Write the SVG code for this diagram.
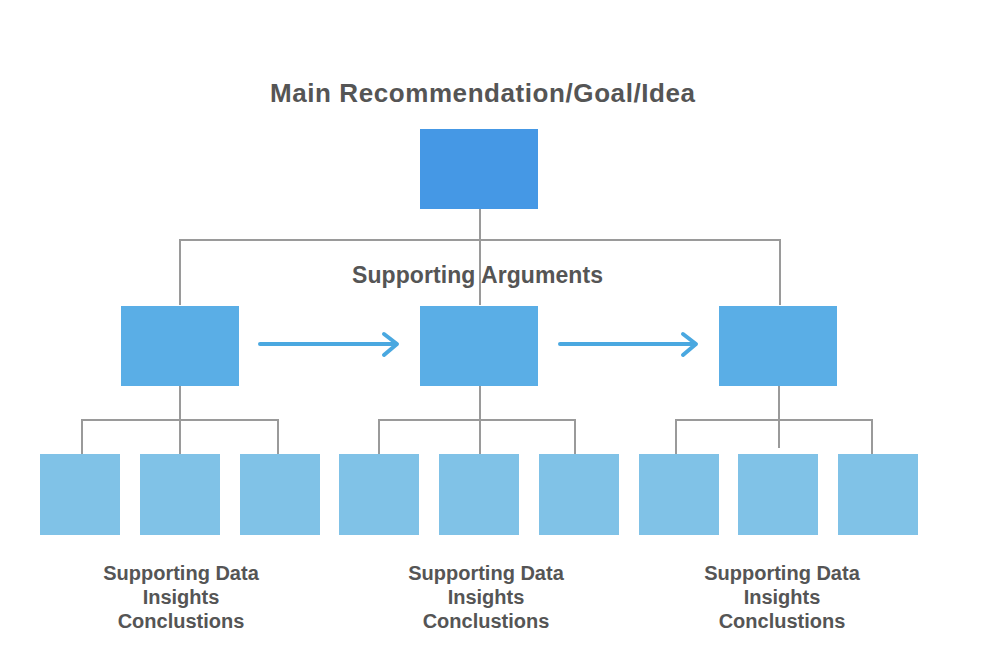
<svg xmlns="http://www.w3.org/2000/svg" width="986" height="666" viewBox="0 0 986 666">
<style>
.t{font-family:"Liberation Sans",Arial,sans-serif;font-weight:bold;fill:#555;text-anchor:middle}
.s{font-size:20px}
.ln{stroke:#9a9a9a;stroke-width:2;fill:none}
.top{fill:#4598e5}
.mid{fill:#5aaee6}
.bot{fill:#80c2e7}
.arr{stroke:#4aa8e0;stroke-width:4;fill:none;stroke-linecap:round;stroke-linejoin:round}
</style>
<rect width="986" height="666" fill="#fff"/>
<g id="connectors">
<path class="ln" d="M480 209V305M180 305V240H780V305"/>
<path class="ln" d="M180 386V454M82 454V420H278V454"/>
<path class="ln" d="M480 386V454M379 454V420H575V454"/>
<path class="ln" d="M779 386V448M676 454V420H872V454"/>
<path class="arr" d="M260 344H396M384 334L397 344L384 355"/>
<path class="arr" d="M560 344H695M683 334L696 344L683 355"/>
</g>
<g id="title"><text class="t" x="482.5" y="102" font-size="26" textLength="425" lengthAdjust="spacing">Main Recommendation/Goal/Idea</text></g>
<g id="main"><rect class="top" x="420" y="129" width="118" height="80"/></g>
<g id="args-label"><text class="t" x="477.5" y="283" font-size="23" textLength="251" lengthAdjust="spacing">Supporting Arguments</text></g>
<g id="arg1"><rect class="mid" x="121" y="306" width="118" height="80"/></g>
<g id="arg2"><rect class="mid" x="420" y="306" width="118" height="80"/></g>
<g id="arg3"><rect class="mid" x="719" y="306" width="118" height="80"/></g>
<g id="d1"><rect class="bot" x="40" y="454" width="80" height="81"/></g>
<g id="d2"><rect class="bot" x="140" y="454" width="80" height="81"/></g>
<g id="d3"><rect class="bot" x="240" y="454" width="80" height="81"/></g>
<g id="d4"><rect class="bot" x="339" y="454" width="80" height="81"/></g>
<g id="d5"><rect class="bot" x="439" y="454" width="80" height="81"/></g>
<g id="d6"><rect class="bot" x="539" y="454" width="80" height="81"/></g>
<g id="d7"><rect class="bot" x="639" y="454" width="80" height="81"/></g>
<g id="d8"><rect class="bot" x="738" y="454" width="80" height="81"/></g>
<g id="d9"><rect class="bot" x="838" y="454" width="80" height="81"/></g>
<g id="label1">
<text class="t s" x="181" y="580">Supporting Data</text>
<text class="t s" x="181" y="604">Insights</text>
<text class="t s" x="181" y="628">Conclustions</text>
</g>
<g id="label2">
<text class="t s" x="486" y="580">Supporting Data</text>
<text class="t s" x="486" y="604">Insights</text>
<text class="t s" x="486" y="628">Conclustions</text>
</g>
<g id="label3">
<text class="t s" x="782" y="580">Supporting Data</text>
<text class="t s" x="782" y="604">Insights</text>
<text class="t s" x="782" y="628">Conclustions</text>
</g>
</svg>
